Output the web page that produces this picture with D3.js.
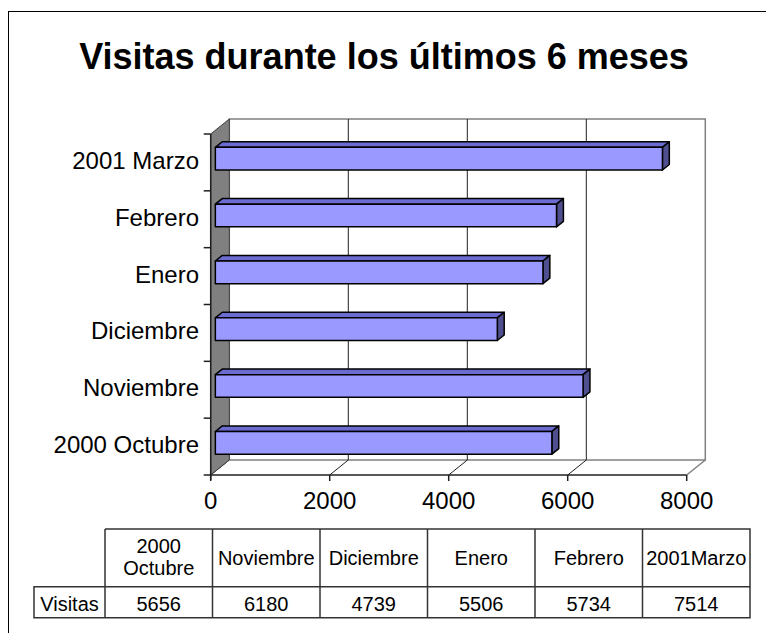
<!DOCTYPE html>
<html>
<head>
<meta charset="utf-8">
<script src="https://cdn.jsdelivr.net/npm/d3@7"></script>
<style>
  body { margin: 0; background: #fff; }
  svg { display: block; font-family: Arial, "Liberation Sans", sans-serif; }
</style>
</head>
<body>
<svg id="main" width="766" height="633"></svg>
<script>
const width = 766;
const height = 633;

const months = ['2000 Octubre', 'Noviembre', 'Diciembre', 'Enero', 'Febrero', '2001 Marzo'];
const visitas = [5656, 6180, 4739, 5506, 5734, 7514];
const xTicks = [0, 2000, 4000, 6000, 8000];
const tableHeaders = [['2000', 'Octubre'], ['Noviembre'], ['Diciembre'], ['Enero'], ['Febrero'], ['2001Marzo']];
const seriesName = 'Visitas';
const title = 'Visitas durante los últimos 6 meses';

const svg = d3.select('#main');

// outer frame
svg.append('rect')
  .attr('x', 8.5).attr('y', 11.5).attr('width', 800).attr('height', 700)
  .attr('fill', 'none').attr('stroke', '#000').attr('stroke-width', 1);

svg.append('text')
  .attr('x', 384).attr('y', 69)
  .attr('text-anchor', 'middle')
  .attr('font-size', 36).attr('font-weight', 'bold')
  .text(title);

// 3d plot geometry
const depth = {x: 18.6, y: -15};
const x = d3.scaleLinear().domain([0, 8000]).range([210.7, 686.7]);
const y = d3.scaleBand().domain(months.slice().reverse()).range([134, 475])
  .paddingInner(0.6).paddingOuter(0.3);
const top0 = y.range()[0], bottom0 = y.range()[1];

const plot = svg.append('g');

// back wall
plot.append('rect')
  .attr('x', x(0) + depth.x).attr('y', top0 + depth.y)
  .attr('width', x(8000) - x(0)).attr('height', bottom0 - top0)
  .attr('fill', '#fff').attr('stroke', '#808080').attr('stroke-width', 1.5);

// gridlines on back wall + floor diagonals
xTicks.forEach(t => {
  if (t > 0 && t < 8000) {
    plot.append('line')
      .attr('x1', x(t) + depth.x).attr('x2', x(t) + depth.x)
      .attr('y1', top0 + depth.y).attr('y2', bottom0 + depth.y)
      .attr('stroke', '#202020').attr('stroke-width', 1);
  }
  plot.append('line')
    .attr('x1', x(t)).attr('y1', bottom0)
    .attr('x2', x(t) + depth.x).attr('y2', bottom0 + depth.y)
    .attr('stroke', t === 8000 ? '#808080' : '#202020').attr('stroke-width', t === 8000 ? 1.5 : 1);
});

// left wall
plot.append('path')
  .attr('d', `M ${x(0)} ${top0} L ${x(0) + depth.x} ${top0 + depth.y} L ${x(0) + depth.x} ${bottom0 + depth.y} L ${x(0)} ${bottom0} Z`)
  .attr('fill', '#808080').attr('stroke', '#404040').attr('stroke-width', 1);

// front axis lines
plot.append('line')
  .attr('x1', x(0)).attr('x2', x(8000)).attr('y1', bottom0).attr('y2', bottom0)
  .attr('stroke', '#202020').attr('stroke-width', 1.5);
plot.append('line')
  .attr('x1', x(0)).attr('x2', x(0)).attr('y1', top0).attr('y2', bottom0 + 5)
  .attr('stroke', '#202020').attr('stroke-width', 1.5);

// x ticks + labels
xTicks.forEach(t => {
  plot.append('line')
    .attr('x1', x(t)).attr('x2', x(t)).attr('y1', bottom0).attr('y2', bottom0 + 6)
    .attr('stroke', '#202020').attr('stroke-width', 1.5);
  plot.append('text')
    .attr('x', x(t)).attr('y', 509)
    .attr('text-anchor', 'middle').attr('font-size', 24)
    .text(t);
});

// y ticks + labels
for (let i = 0; i <= months.length; i++) {
  const ty = top0 + i * y.step();
  plot.append('line')
    .attr('x1', x(0) - 7).attr('x2', x(0)).attr('y1', ty).attr('y2', ty)
    .attr('stroke', '#202020').attr('stroke-width', 1.5);
}
months.forEach(m => {
  plot.append('text')
    .attr('x', 199).attr('y', y(m) + y.bandwidth() / 2 - 2)
    .attr('dominant-baseline', 'central')
    .attr('text-anchor', 'end').attr('font-size', 24)
    .text(m);
});

// bars
const zf = 0.25, zb = 0.62;
const fx = depth.x * zf, fy = depth.y * zf, bx = depth.x * zb, by = depth.y * zb;
months.forEach((m, i) => {
  const x0 = x(0), x1 = x(visitas[i]);
  const yt = y(m), yb = yt + y.bandwidth();
  const g = plot.append('g').attr('stroke', '#000').attr('stroke-width', 1.5).attr('stroke-linejoin', 'round');
  g.append('path')
    .attr('d', `M ${x0 + fx} ${yt + fy} L ${x0 + bx} ${yt + by} L ${x1 + bx} ${yt + by} L ${x1 + fx} ${yt + fy} Z`)
    .attr('fill', '#6b6bd0');
  g.append('path')
    .attr('d', `M ${x1 + fx} ${yt + fy} L ${x1 + bx} ${yt + by} L ${x1 + bx} ${yb + by} L ${x1 + fx} ${yb + fy} Z`)
    .attr('fill', '#4f4f8f');
  g.append('rect')
    .attr('x', x0 + fx).attr('y', yt + fy)
    .attr('width', x1 - x0).attr('height', yb - yt)
    .attr('fill', '#9999ff');
});

// data table
const tx = d3.scaleBand().domain(months).range([105, 750]);
const rowTop = 529, rowMid = 586.7, rowBot = 617.7;
const table = svg.append('g').attr('font-size', 20);
const lineColor = '#333';
table.append('path')
  .attr('d', `M 105 ${rowTop} H 750 V ${rowBot} H 34 V ${rowMid} H 750 M 105 ${rowTop} V ${rowBot}`)
  .attr('fill', 'none').attr('stroke', lineColor).attr('stroke-width', 1.5);
months.forEach((m, i) => {
  const cx = tx(m) + tx.bandwidth() / 2;
  if (i > 0) {
    table.append('line')
      .attr('x1', tx(m)).attr('x2', tx(m)).attr('y1', rowTop).attr('y2', rowBot)
      .attr('stroke', lineColor).attr('stroke-width', 1.5);
  }
  const lines = tableHeaders[i];
  lines.forEach((ln, j) => {
    table.append('text')
      .attr('x', cx)
      .attr('y', lines.length === 1 ? 565 : 553 + j * 22)
      .attr('text-anchor', 'middle')
      .text(ln);
  });
  table.append('text')
    .attr('x', cx).attr('y', 611)
    .attr('text-anchor', 'middle')
    .text(visitas[i]);
});
table.append('text')
  .attr('x', 69.5).attr('y', 611)
  .attr('text-anchor', 'middle')
  .text(seriesName);
</script>
</body>
</html>
